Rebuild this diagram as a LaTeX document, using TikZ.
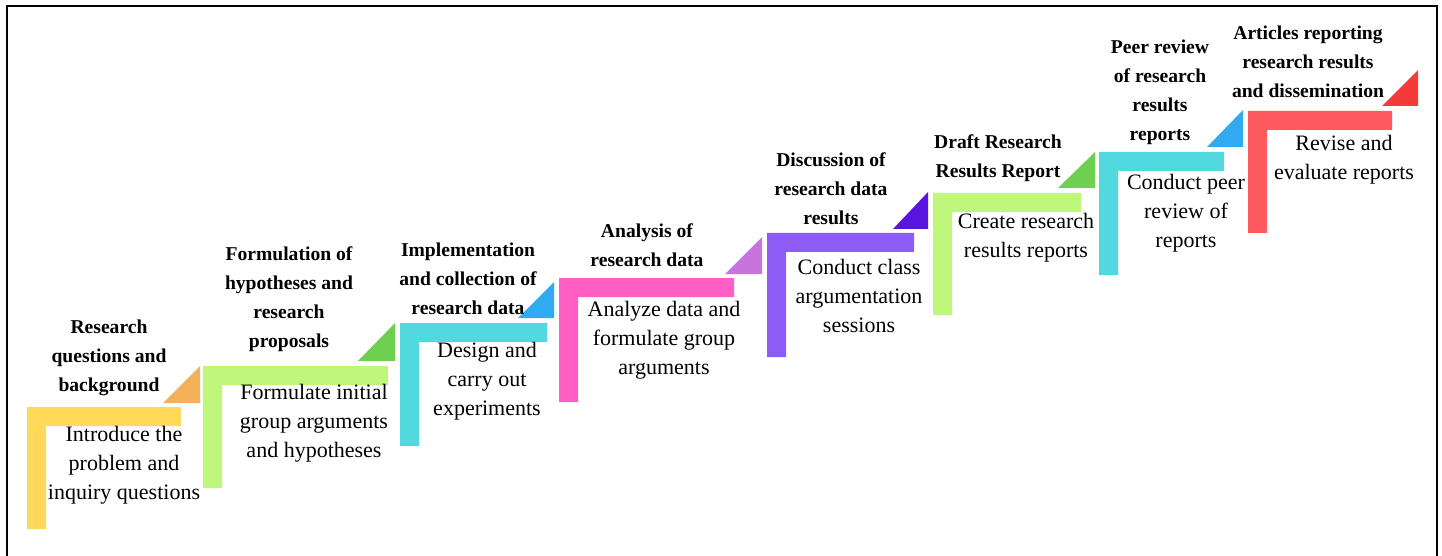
\documentclass[tikz,border=0pt]{standalone}
\usepackage{fontspec}
\setmainfont{Liberation Serif}
\usepackage{xcolor}
\usetikzlibrary{positioning}

\definecolor{barYellow}{HTML}{FFD95A}
\definecolor{triOrange}{HTML}{F5B05A}
\definecolor{barLime}{HTML}{BFF77A}
\definecolor{triGreen}{HTML}{6FCF50}
\definecolor{barCyan}{HTML}{52D9E0}
\definecolor{triBlue}{HTML}{30AAF0}
\definecolor{barPink}{HTML}{FF5EC4}
\definecolor{triOrchid}{HTML}{C774DC}
\definecolor{barPurple}{HTML}{8C5CF5}
\definecolor{triViolet}{HTML}{5A14E0}
\definecolor{barRed}{HTML}{FF5A60}
\definecolor{triRed}{HTML}{F53A3A}

\begin{document}
\begin{tikzpicture}[x=0.5pt, y=-0.5pt,
  steptitle/.style={font=\bfseries\fontsize{9.8}{14.5}\selectfont, align=center, inner sep=0pt},
  stepdesc/.style={font=\fontsize{11}{14.5}\selectfont, align=center, inner sep=0pt}]
  \useasboundingbox (0,0) rectangle (1442,556);

  % Frame
  \draw[line width=1pt] (7,556) |- (1437,6) -- (1437,556);

  % Steps
  \fill[barYellow] (27,407) -| (181,426) -| (46,529) -| cycle;
  \fill[triOrange] (163,403) -- (200,403) -- (200,366) -- cycle;
  \fill[barLime] (203,366) -| (388,385) -| (222,488) -| cycle;
  \fill[triGreen] (358,361) -- (395,361) -- (395,323) -- cycle;
  \fill[barCyan] (400,323) -| (547,342) -| (419,446) -| cycle;
  \fill[triBlue] (518,318) -- (554,318) -- (554,282) -- cycle;
  \fill[barPink] (559,278) -| (734,297) -| (578,402) -| cycle;
  \fill[triOrchid] (725,274) -- (762,274) -- (762,237) -- cycle;
  \fill[barPurple] (767,233) -| (914,252) -| (786,357) -| cycle;
  \fill[triViolet] (893,229) -- (928,229) -- (928,192) -- cycle;
  \fill[barLime] (933,193) -| (1081,212) -| (952,315) -| cycle;
  \fill[triGreen] (1058,188) -- (1095,188) -- (1095,152) -- cycle;
  \fill[barCyan] (1099,152) -| (1224,171) -| (1118,275) -| cycle;
  \fill[triBlue] (1207,147) -- (1243,147) -- (1243,110) -- cycle;
  \fill[barRed] (1248,111) -| (1392,130) -| (1267,233) -| cycle;
  \fill[triRed] (1382,106) -- (1418,106) -- (1418,70) -- cycle;

  % Titles
  \node[steptitle] (t1) at (109,358) {Research\\questions and\\background};
  \node[steptitle] (t2) at (289,299) {Formulation of\\hypotheses and\\research\\proposals};
  \node[steptitle] (t3) at (468,279) {Implementation\\and collection of\\research data};
  \node[steptitle] (t4) at (647,245) {Analysis of\\research data};
  \node[steptitle] (t5) at (831,189) {Discussion of\\research data\\results};
  \node[steptitle] (t6) at (998,158) {Draft Research\\Results Report};
  \node[steptitle] (t7) at (1160,92) {Peer review\\of research\\results\\reports};
  \node[steptitle] (t8) at (1308,62) {Articles reporting\\research results\\and dissemination};

  % Descriptions
  \node[stepdesc] (d1) at (124,465) {Introduce the\\problem and\\inquiry questions};
  \node[stepdesc] (d2) at (314,423) {Formulate initial\\group arguments\\and hypotheses};
  \node[stepdesc] (d3) at (487,381) {Design and\\carry out\\experiments};
  \node[stepdesc] (d4) at (664,340) {Analyze data and\\formulate group\\arguments};
  \node[stepdesc] (d5) at (859,296) {Conduct class\\argumentation\\sessions};
  \node[stepdesc] (d6) at (1026,238) {Create research\\results reports};
  \node[stepdesc] (d7) at (1186,213) {Conduct peer\\review of\\reports};
  \node[stepdesc] (d8) at (1344,160) {Revise and\\evaluate reports};
\end{tikzpicture}
\end{document}
